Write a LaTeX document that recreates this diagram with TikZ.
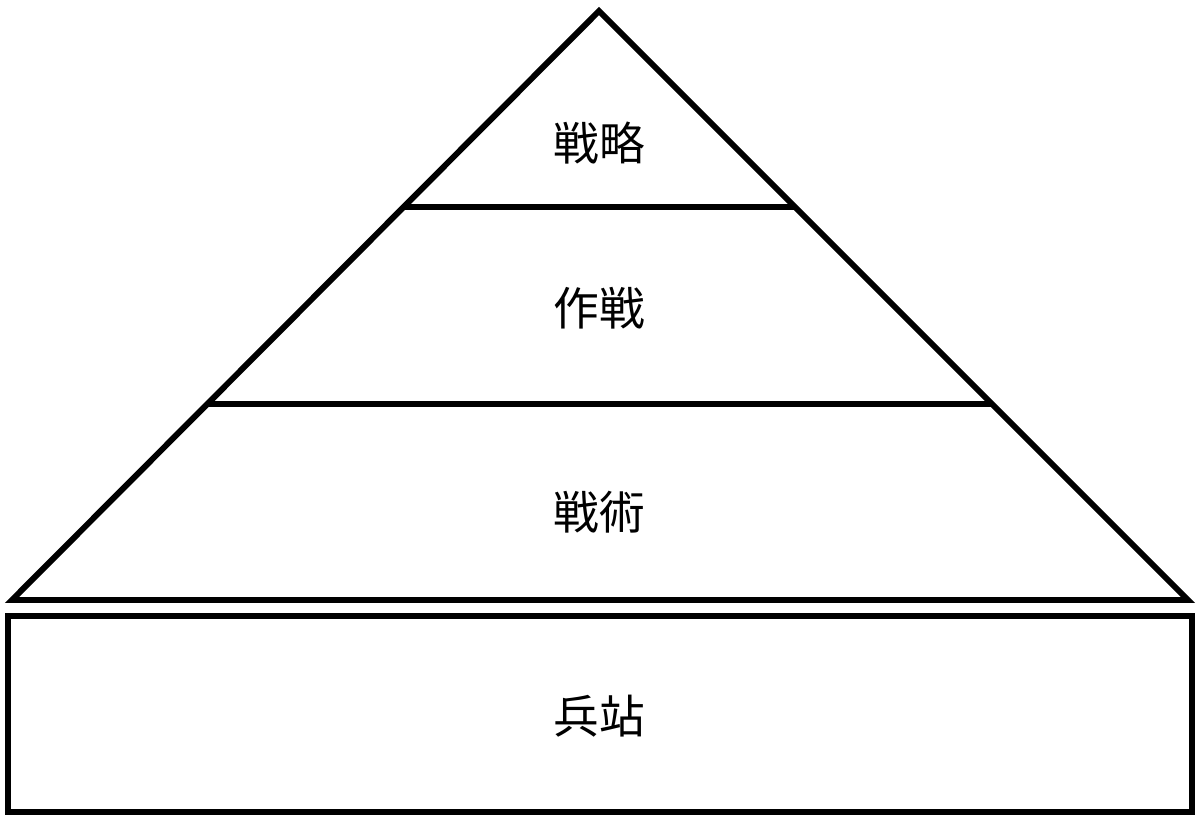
\documentclass[tikz,border=0pt]{standalone}
\usepackage{fontspec}
\newfontfamily\jpfont{Noto Sans CJK JP}
\usepackage{tikz}
\usetikzlibrary{calc}

\begin{document}
\begin{tikzpicture}[
  x=0.02cm, y=-0.02cm,
  edge/.style={draw, line width=3.4pt, line join=miter},
  label/.style={font=\jpfont\fontsize{26}{30}\selectfont, inner sep=0pt}
]
\useasboundingbox (0,0) rectangle (1200,820);

% pyramid
\coordinate (apex) at (599,11);
\coordinate (bl) at (12,600);
\coordinate (br) at (1188,600);
\draw[edge] (apex) -- (bl) -- (br) -- cycle;

% layer lines
\coordinate (l1) at ($(apex)!0.333!(bl)$);
\coordinate (r1) at ($(apex)!0.333!(br)$);
\coordinate (l2) at ($(apex)!0.667!(bl)$);
\coordinate (r2) at ($(apex)!0.667!(br)$);
\draw[edge] (l1) -- (r1);
\draw[edge] (l2) -- (r2);

% base
\draw[edge] (8,616) rectangle (1192,812);

\node[label] (strategy) at (599,143) {戦略};
\node[label] (operation) at (599,308) {作戦};
\node[label] (tactics) at (599,512) {戦術};
\node[label] (logistics) at (599,716) {兵站};

\end{tikzpicture}
\end{document}
